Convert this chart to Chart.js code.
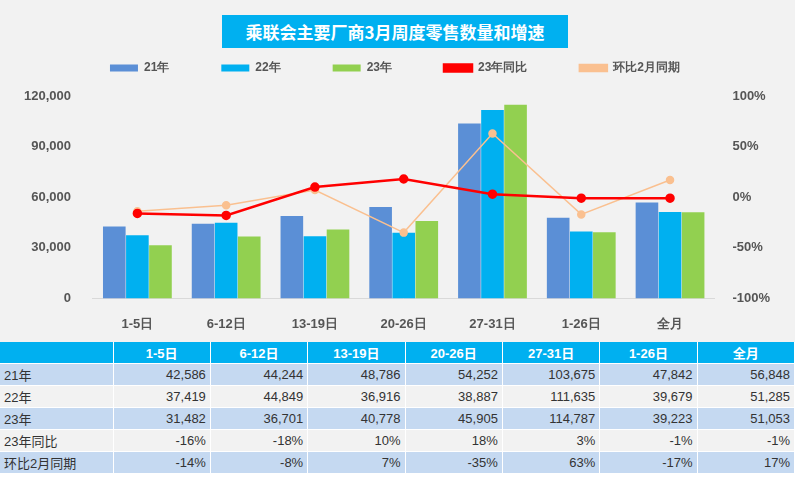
<!DOCTYPE html>
<html><head><meta charset="utf-8">
<script src="https://cdn.jsdelivr.net/npm/chart.js@4"></script>
<style>
body{margin:0;background:#fff;font-family:"Noto Sans CJK SC","Liberation Sans",sans-serif;}
#wrap{position:relative;width:795px;height:342px;background:#f2f2f2;overflow:hidden;}
#title{position:absolute;left:222px;top:15px;width:346px;height:33px;background:#00b0f0;color:#fff;font-weight:bold;font-size:17px;line-height:33px;text-align:center;z-index:2;}
#cv{position:absolute;left:0;top:10px;}
table{border-collapse:collapse;width:795px;table-layout:fixed;font-family:"Liberation Sans","Noto Sans CJK SC",sans-serif;font-size:13px;color:#333;}
td,th{height:21px;padding:0 4px;border-right:1px solid #fff;border-bottom:1px solid #fff;text-align:right;}
th{background:#00b0f0;color:#fff;text-align:center;}
td:first-child{text-align:left;}
tr.a td{background:#c5d9f1;}
tr.b td{background:#f2f2f2;}
</style></head><body>
<div id="wrap"><div id="title">乘联会主要厂商3月周度零售数量和增速</div><canvas id="cv" width="795" height="332"></canvas></div>
<table id="tb"><colgroup><col style="width:113px"><col><col><col><col><col><col><col></colgroup></table>
<script>
const categories = ['1-5日','6-12日','13-19日','20-26日','27-31日','1-26日','全月'];
const y21 = [42586,44244,48786,54252,103675,47842,56848];
const y22 = [37419,44849,36916,38887,111635,39679,51285];
const y23 = [31482,36701,40778,45905,114787,39223,51053];
const yoy23 = [-16,-18,10,18,3,-1,-1];
const vsFeb = [-14,-8,7,-35,63,-17,17];

const legendGap = {
	id:'legendGap',
	afterInit(chart){
		const f = chart.legend.fit;
		chart.legend.fit = function(){ f.call(this); this.height += 12; };
	}
};

const ctx = document.getElementById('cv').getContext('2d');
new Chart(ctx, {
	data: {
		labels: categories,
		datasets: [
			{type:'bar', label:'21年', data:y21, backgroundColor:'#5b8fd6', yAxisID:'y', order:2, categoryPercentage:0.78, barPercentage:0.98},
			{type:'bar', label:'22年', data:y22, backgroundColor:'#00b0f0', yAxisID:'y', order:2, categoryPercentage:0.78, barPercentage:0.98},
			{type:'bar', label:'23年', data:y23, backgroundColor:'#92d050', yAxisID:'y', order:2, categoryPercentage:0.78, barPercentage:0.98},
			{type:'line', label:'23年同比', data:yoy23, borderColor:'#ff0000', backgroundColor:'#ff0000', borderWidth:2.5, pointRadius:3.5, yAxisID:'y1', order:0},
			{type:'line', label:'环比2月同期', data:vsFeb, borderColor:'#fac090', backgroundColor:'#fac090', borderWidth:1.5, pointRadius:3.5, yAxisID:'y1', order:1},
		],
	},
	plugins:[legendGap],
	options: {
		responsive:false, animation:false,
		layout:{padding:{left:10,right:15,bottom:0}},
		plugins:{
			legend:{labels:{font:{size:12,weight:'bold'},color:'#555',boxWidth:28,boxHeight:7,padding:52,
				sort:(a,b)=>a.datasetIndex-b.datasetIndex}},
			tooltip:{enabled:false},
		},
		scales:{
			x:{grid:{display:false},border:{color:'#d9d9d9'},ticks:{font:{size:13,weight:'bold'},color:'#555',padding:10}},
			y:{min:0,max:120000,ticks:{stepSize:30000,font:{size:13,weight:'bold'},color:'#555',padding:14,
				callback:v=>v.toLocaleString('en-US')},grid:{display:false},border:{display:false}},
			y1:{position:'right',min:-100,max:100,ticks:{stepSize:50,font:{size:13,weight:'bold'},color:'#555',padding:10,
				callback:v=>v+'%'},grid:{display:false},border:{display:false}},
		}
	}
});

const tb = document.getElementById('tb');
let html = '<tr><th></th>' + categories.map(c=>'<th>'+c+'</th>').join('') + '</tr>';
const rows = [['21年',y21,false],['22年',y22,false],['23年',y23,false],['23年同比',yoy23,true],['环比2月同期',vsFeb,true]];
rows.forEach((r,i)=>{
	html += '<tr class="'+(i%2?'b':'a')+'"><td>'+r[0]+'</td>' +
		r[1].map(v=>'<td>'+(r[2]?v+'%':v.toLocaleString('en-US'))+'</td>').join('') + '</tr>';
});
tb.insertAdjacentHTML('beforeend', html);
</script>
</body></html>
